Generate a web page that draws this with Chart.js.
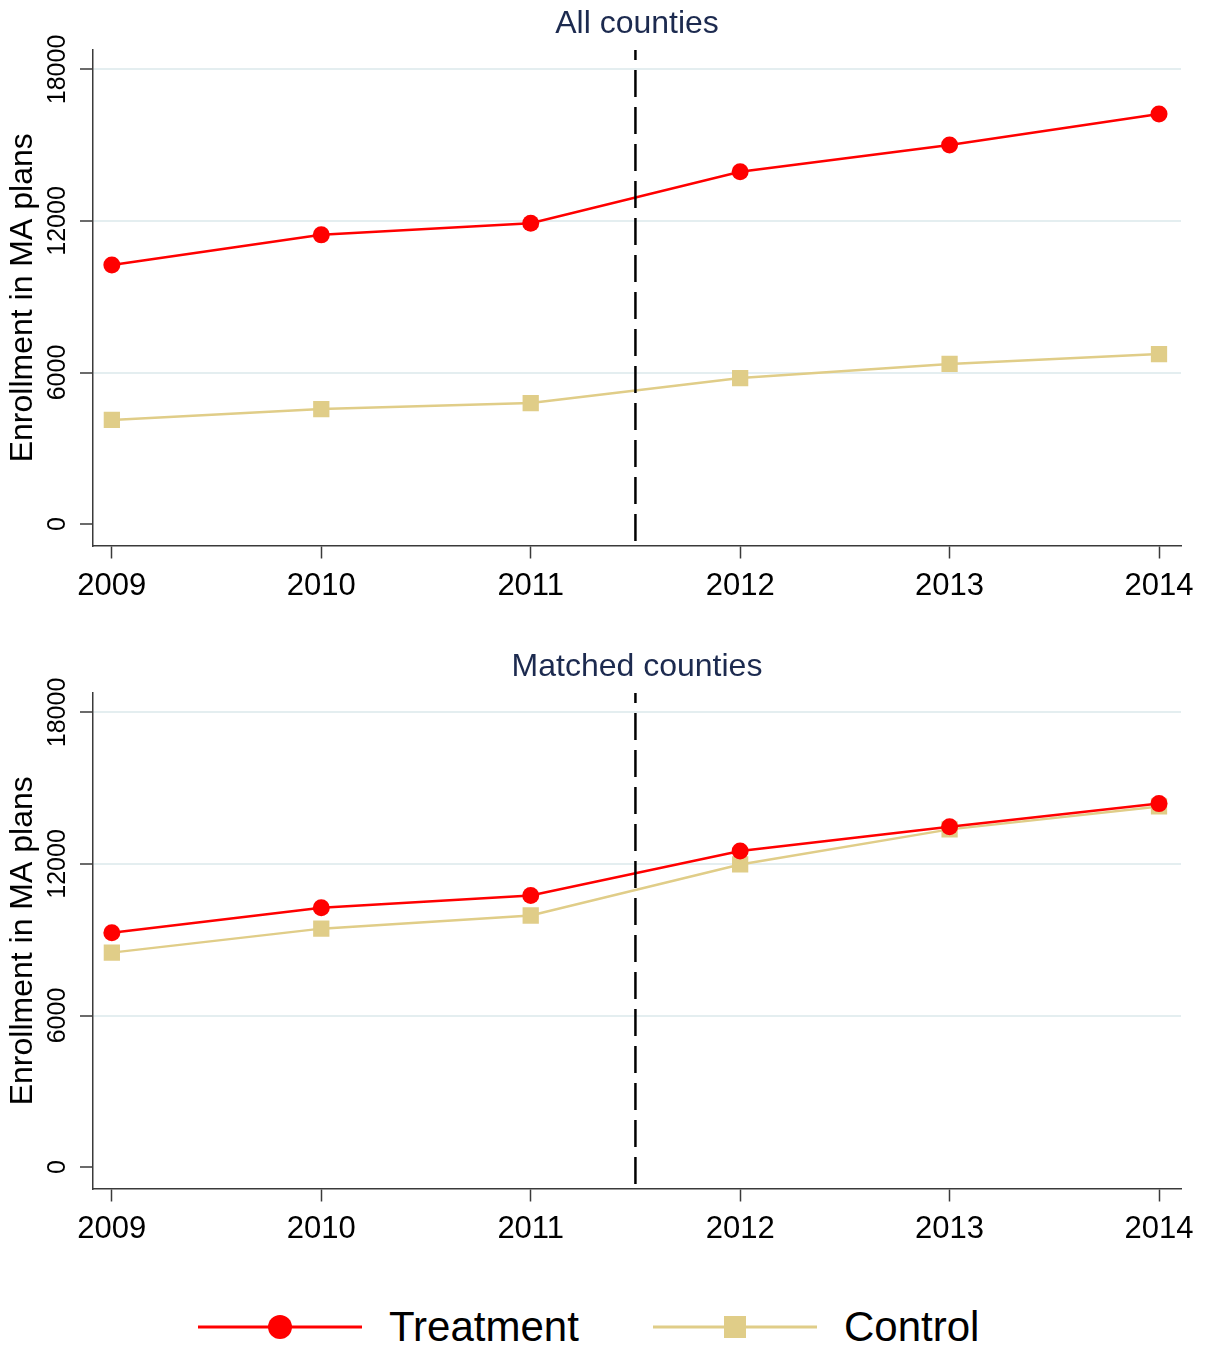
<!DOCTYPE html>
<html>
<head>
<meta charset="utf-8">
<title>Enrollment in MA plans</title>
<script src="https://cdn.jsdelivr.net/npm/chart.js@4.4.1/dist/chart.umd.min.js"></script>
<style>
  html, body { margin: 0; padding: 0; background: #ffffff; }
  body { width: 1206px; height: 1349px; position: relative; overflow: hidden;
         font-family: 'Liberation Sans', Arial, sans-serif; }
  .panel { position: absolute; left: 0; width: 1206px; height: 643px; }
  #panelAll { top: 0; }
  #panelMatched { top: 643px; }
  .legend { position: absolute; left: 0; top: 1297px; width: 1206px; height: 60px; }
  .legend .item { position: absolute; top: 0; height: 60px; display: flex; align-items: center; }
  .legend svg { display: block; }
  .legend span { font-size: 42px; color: #000; margin-left: 25px; line-height: 60px; }
</style>
</head>
<body>
<div class="panel" id="panelAll"><canvas id="chartAll" width="1206" height="643"></canvas></div>
<div class="panel" id="panelMatched"><canvas id="chartMatched" width="1206" height="643"></canvas></div>
<div class="legend">
  <div class="item" style="left:198px">
    <svg width="166" height="40"><line x1="0" y1="20" x2="164" y2="20" stroke="#ff0000" stroke-width="3"/><circle cx="82" cy="20" r="12" fill="#ff0000"/></svg>
    <span>Treatment</span>
  </div>
  <div class="item" style="left:653px">
    <svg width="166" height="40"><line x1="0" y1="20" x2="164" y2="20" stroke="#e0cd88" stroke-width="3"/><rect x="71" y="9" width="22" height="22" fill="#e0cd88"/></svg>
    <span>Control</span>
  </div>
</div>
<script>
// Years on the x axis
const years = [2009, 2010, 2011, 2012, 2013, 2014];
// Average enrollment, all counties
const allTreatment = [10260, 11450, 11910, 13950, 15010, 16240];
const allControl   = [4120, 4550, 4790, 5780, 6340, 6730];
// Average enrollment, matched counties
const matchedTreatment = [9280, 10270, 10750, 12510, 13470, 14390];
const matchedControl   = [8490, 9440, 9960, 11980, 13370, 14280];
// Axis ticks and the policy cutoff
const yTicks = [0, 6000, 12000, 18000];
const cutoffYear = 2011.5;
const yMin = -850, yMax = 18770;
const xMin = 2008.91, xMax = 2014.105;

const FONT = "'Liberation Sans', Arial, sans-serif";
const AXIS = '#3a3a3a';
const GRID = '#e4eef0';
const RED = '#ff0000';
const SAND = '#e0cd88';

function points(values) {
  return years.map((x, i) => ({ x: x, y: values[i] }));
}

function makePanel(id, title, treat, ctrl) {
  return new Chart(document.getElementById(id), {
    type: 'line',
    data: {
      datasets: [
        {
          label: 'cutoff',
          data: [{ x: cutoffYear, y: yMax }, { x: cutoffYear, y: yMin }],
          borderColor: '#000', borderWidth: 2.5, borderDash: [27, 10], borderDashOffset: 17,
          pointRadius: 0, fill: false
        },
        {
          label: 'Treatment',
          data: points(treat),
          borderColor: RED, backgroundColor: RED, borderWidth: 2.5,
          pointStyle: 'circle', pointRadius: 8.5, pointBorderWidth: 0,
          pointBackgroundColor: RED, fill: false, tension: 0
        },
        {
          label: 'Control',
          data: points(ctrl),
          borderColor: SAND, backgroundColor: SAND, borderWidth: 2.5,
          pointStyle: 'rect', pointRadius: 11.5, pointBorderWidth: 0,
          pointBackgroundColor: SAND, fill: false, tension: 0
        }
      ]
    },
    options: {
      responsive: false,
      animation: false,
      events: [],
      layout: { padding: { left: 0, right: 25, top: 0, bottom: 0 } },
      plugins: {
        legend: { display: false },
        tooltip: { enabled: false },
        title: {
          display: true, text: title, fullSize: false,
          color: '#1c2a4f', font: { family: FONT, size: 32, weight: 'normal', lineHeight: 1.2 },
          padding: { top: 5, bottom: 6.6 }
        }
      },
      scales: {
        x: {
          type: 'linear', min: xMin, max: xMax,
          afterBuildTicks: s => { s.ticks = years.map(v => ({ value: v })); },
          afterFit: s => { s.height = 97.5; },
          ticks: {
            color: '#000', padding: 9, maxRotation: 0, minRotation: 0,
            font: { family: FONT, size: 31 },
            callback: v => String(v)
          },
          grid: { drawOnChartArea: false, drawTicks: true, tickLength: 13, tickColor: AXIS, tickWidth: 1.5 },
          border: { display: true, color: AXIS, width: 1.5 }
        },
        y: {
          type: 'linear', min: yMin, max: yMax,
          afterBuildTicks: s => { s.ticks = yTicks.map(v => ({ value: v })); },
          afterFit: s => { s.width = 93; },
          ticks: {
            color: '#000', minRotation: 90, maxRotation: 90, crossAlign: 'center', padding: -13,
            font: { family: FONT, size: 25 },
            callback: v => String(v)
          },
          grid: {
            color: c => (c.tick && c.tick.value === 0) ? 'rgba(0,0,0,0)' : GRID,
            lineWidth: 2, drawTicks: true, tickLength: 13, tickColor: AXIS, tickWidth: 1.5
          },
          border: { display: true, color: AXIS, width: 1.5 },
          title: {
            display: true, text: 'Enrollment in MA plans', color: '#000',
            font: { family: FONT, size: 32 }, padding: { top: 4, bottom: 0 }
          }
        }
      }
    }
  });
}

makePanel('chartAll', 'All counties', allTreatment, allControl);
makePanel('chartMatched', 'Matched counties', matchedTreatment, matchedControl);
</script>
</body>
</html>
